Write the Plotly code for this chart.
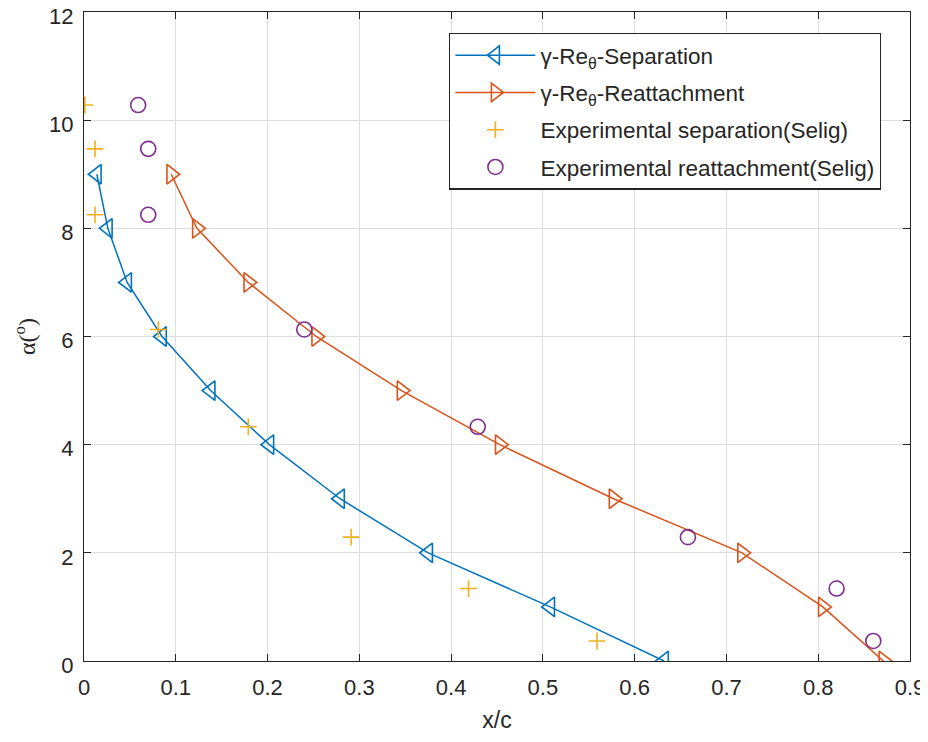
import plotly.graph_objects as go

alpha_sim = [0, 1, 2, 3, 4, 5, 6, 7, 8, 9]
x_sep_sim = [0.632, 0.508, 0.375, 0.279, 0.202, 0.138, 0.085, 0.047, 0.026, 0.014]
x_reat_sim = [0.871, 0.805, 0.717, 0.577, 0.453, 0.346, 0.253, 0.179, 0.123, 0.095]

alpha_exp = [10.28, 9.47, 8.25, 6.13, 4.33, 2.29, 1.34, 0.37]
x_sep_exp = [0.001, 0.012, 0.012, 0.081, 0.179, 0.291, 0.419, 0.559]
x_reat_exp = [0.059, 0.070, 0.070, 0.240, 0.429, 0.658, 0.820, 0.860]

names = ["γ-Re<sub>θ</sub>-Separation", "γ-Re<sub>θ</sub>-Reattachment",
         "Experimental separation(Selig)", "Experimental reattachment(Selig)"]

blue, orange, yellow, purple = "#0072BD", "#D95319", "#EDB120", "#7E2F8E"
txt = "#262626"
sans = "Liberation Sans, Arial"

fig = go.Figure()
fig.add_trace(go.Scatter(x=x_sep_sim, y=alpha_sim, mode="lines+markers", name=names[0], legendgroup="g1",
                         line=dict(color=blue, width=1.5),
                         marker=dict(symbol="triangle-left-open", size=17, color=blue, line=dict(width=1.6))))
fig.add_trace(go.Scatter(x=x_reat_sim, y=alpha_sim, mode="lines+markers", name=names[1], legendgroup="g2",
                         line=dict(color=orange, width=1.5),
                         marker=dict(symbol="triangle-right-open", size=17, color=orange, line=dict(width=1.6))))
fig.add_trace(go.Scatter(x=x_sep_exp, y=alpha_exp, mode="markers", name=names[2], legendgroup="g3",
                         marker=dict(symbol="cross-thin-open", size=12, color=yellow, line=dict(width=1.6, color=yellow))))
fig.add_trace(go.Scatter(x=x_reat_exp, y=alpha_exp, mode="markers", name=names[3], legendgroup="g4",
                         marker=dict(symbol="circle-open", size=15, color=purple, line=dict(width=1.6))))

axis_common = dict(showgrid=True, gridcolor="#dedede", gridwidth=1, zeroline=False,
                   showline=True, linecolor=txt, linewidth=1.3, mirror="allticks",
                   ticks="inside", ticklen=7, tickcolor=txt, automargin=False,
                   ticklabeloverflow="allow",
                   tickfont=dict(family=sans, size=22, color=txt))

fig.update_xaxes(range=[0, 0.9], tickvals=[0, 0.1, 0.2, 0.3, 0.4, 0.5, 0.6, 0.7, 0.8, 0.9],
                 ticktext=["0", "0.1", "0.2", "0.3", "0.4", "0.5", "0.6", "0.7", "0.8", "0.9"],
                 ticklabelstandoff=6,
                 title=dict(text="x/c", font=dict(family=sans, size=23, color=txt), standoff=13),
                 **axis_common)
fig.update_yaxes(range=[0, 12], tickvals=[0, 2, 4, 6, 8, 10, 12],
                 ticklabelstandoff=5, ticklabelshift=4,
                 title=dict(text="α(<sup>o</sup>)", font=dict(family="Liberation Serif, Times New Roman", size=24, color=txt), standoff=6),
                 **axis_common)

# page body has an 8px margin, so the figure is sized/offset to compensate
fig.update_layout(
    width=920, height=726,
    margin=dict(l=76, r=18, t=4, b=73, autoexpand=False),
    plot_bgcolor="white", paper_bgcolor="white",
    showlegend=True,
    legend=dict(x=0.442, y=0.968, xanchor="left", yanchor="top",
                bgcolor="white", bordercolor=txt, borderwidth=1.3,
                font=dict(family=sans, size=22.5, color=txt),
                itemwidth=80, tracegroupgap=5),
)

fig.write_html("out.html")
